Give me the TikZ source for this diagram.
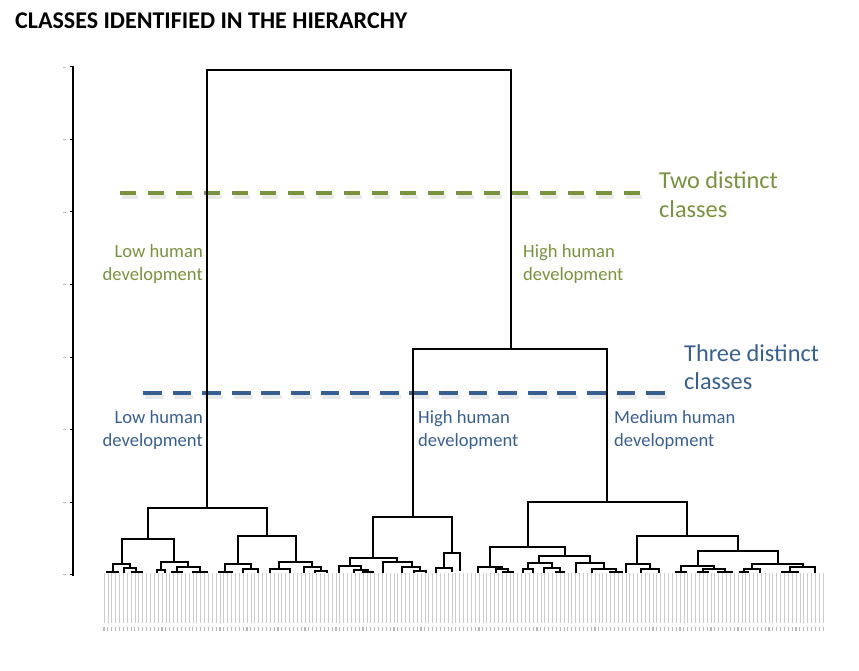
\documentclass[tikz,border=0pt]{standalone}
\usepackage{fontspec}
\setmainfont{Carlito}
\definecolor{hgreen}{RGB}{119,147,60}
\definecolor{hblue}{RGB}{55,96,146}
\tikzset{
  tree/.style={line width=1.9pt, line join=miter, black},
  treetop/.style={line width=1.5pt, line join=miter, black},
  leaf/.style={line width=0.7pt, gray!40},
  labstub/.style={line width=1.1pt, gray!55},
  lbl/.style={inner sep=0pt, font=\fontsize{18.6}{22}\selectfont},
  big/.style={inner sep=0pt, font=\fontsize{24.3}{28}\selectfont},
  gdash/.style={line width=4pt, hgreen, dash pattern=on 16pt off 12pt},
  bdash/.style={line width=4pt, hblue, dash pattern=on 18.7pt off 10.9pt},
  shadowline/.style={line width=4.5pt, gray!70, opacity=0.25}
}
\begin{document}
\begin{tikzpicture}[x=1pt,y=-1pt]
\useasboundingbox (0,0) rectangle (859,671);
% title
\node[inner sep=0pt, anchor=base west, font=\fontsize{24}{28}\selectfont\bfseries] (title) at (15,29) {CLASSES IDENTIFIED IN THE HIERARCHY};
% axis
\draw[line width=2pt] (73,66) -- (73,576);
\foreach \k in {0,...,7} {
  \draw[line width=1pt] (69.5,{67+72.5*\k}) -- (73,{67+72.5*\k});
  \draw[line width=0.8pt, gray!50] (63,{67+72.5*\k}) -- (66,{67+72.5*\k});
}
% leaves
\foreach \i in {0,...,186} {
  \draw[leaf] ({104+3.866*\i},573) -- ++(0,50);
  \draw[labstub] ({104+3.866*\i},627) -- ++(0,4);
}
% dashed cut lines with shadow
\draw[shadowline, dash pattern=on 16pt off 12pt] (122,197) -- (643,197);
\draw[gdash] (120,193) -- (641,193);
\draw[shadowline, dash pattern=on 18.7pt off 10.9pt] (145,397) -- (667,397);
\draw[bdash] (143,393) -- (665,393);
% upper tree
\draw[treetop] (207,508) |- (511,70) -- (511,349);
\draw[treetop] (413,517) |- (607,349) -- (607,502);
% lower tree brackets: x1/x2/y/yleft/yright
\foreach \a/\b/\c/\d/\e in {
  148/267/508/539/536,
  122/174/539/564/562,
  113/130/564/572/568,
  107/118/572/573/573,
  124/136/568/573/572,
  132/142/572/573/573,
  161/188/562/570/567,
  157/165/570/573/573,
  177/200/567/572/572,
  172/182/572/573/573,
  193/207/572/573/573,
  238/296/536/564/562,
  225/251/564/572/569,
  219/232/572/573/573,
  243/258/569/573/573,
  279/312/562/569/567,
  270/290/569/573/573,
  304/321/567/573/571,
  315/327/571/573/573,
  373/452/517/558/553,
  350/397/558/566/562,
  339/361/566/573/570,
  354/368/570/573/572,
  363/373/572/573/573,
  383/412/562/573/567,
  402/420/567/573/571,
  414/426/571/573/573,
  444/460/553/568/571,
  436/452/568/573/572,
  528/687/502/547/536,
  490/565/547/567/556,
  478/502/567/573/569,
  496/508/569/573/572,
  503/513/572/573/573,
  539/590/556/563/563,
  528/552/563/569/568,
  523/533/569/573/573,
  544/560/568/573/572,
  556/564/572/573/573,
  576/604/563/573/569,
  592/616/569/573/572,
  610/622/572/573/573,
  637/738/536/564/551,
  626/650/564/573/569,
  641/659/569/573/573,
  698/778/551/566/564,
  681/714/566/572/569,
  676/686/572/573/573,
  703/725/569/572/572,
  698/708/572/573/573,
  718/732/572/573/573,
  752/803/564/569/567,
  744/760/569/572/573,
  740/748/572/573/573,
  790/815/567/572/573,
  782/798/572/573/573} {
  \draw[tree] (\a,\d) |- (\b,\c) -- (\b,\e);
}
% green labels
\node[lbl, hgreen, anchor=base east] (gl1) at (203,257) {Low human};
\node[lbl, hgreen, anchor=base east] (gl2) at (203,280) {development};
\node[lbl, hgreen, anchor=base west] (gh1) at (523,257) {High human};
\node[lbl, hgreen, anchor=base west] (gh2) at (523,280) {development};
\node[big, hgreen, anchor=base west] (g1) at (659,189) {Two distinct};
\node[big, hgreen, anchor=base west] (g2) at (659,218) {classes};
% blue labels
\node[lbl, hblue, anchor=base east] (bl1) at (203,423) {Low human};
\node[lbl, hblue, anchor=base east] (bl2) at (203,446) {development};
\node[lbl, hblue, anchor=base west] (bh1) at (418,423) {High human};
\node[lbl, hblue, anchor=base west] (bh2) at (418,446) {development};
\node[lbl, hblue, anchor=base west] (bm1) at (614,423) {Medium human};
\node[lbl, hblue, anchor=base west] (bm2) at (614,446) {development};
\node[big, hblue, anchor=base west] (b1) at (684,361) {Three distinct};
\node[big, hblue, anchor=base west] (b2) at (684,389) {classes};
\end{tikzpicture}
\end{document}
